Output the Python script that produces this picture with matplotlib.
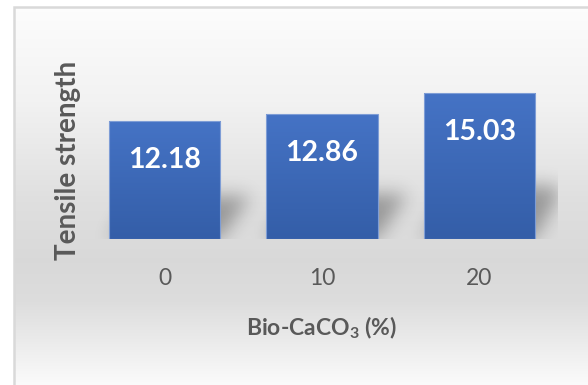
import numpy as np
import matplotlib
matplotlib.use("Agg")
import matplotlib.pyplot as plt

plt.rcParams["font.family"] = ["Lato", "DejaVu Sans"]
plt.rcParams["mathtext.fontset"] = "custom"
plt.rcParams["mathtext.rm"] = "Lato:bold"
plt.rcParams["mathtext.bf"] = "Lato:bold"

# data
categories = ["0", "10", "20"]
strength = [12.18, 12.86, 15.03]
x_title = "Bio-CaCO$_\\mathbf{3}$ (%)"
y_title = "Tensile strength"

W, H = 588, 385
fig = plt.figure(figsize=(W / 100, H / 100), dpi=100)

# chart area background: vertical grey gradient inside a light border
bg = fig.add_axes([0, 0, 1, 1], zorder=-5)
bg.set_xlim(0, W)
bg.set_ylim(H, 0)
bg.axis("off")
stops_y = [7, 100, 200, 260, 300, 340, 385]
stops_v = [0.99, 0.95, 0.875, 0.85, 0.865, 0.92, 0.985]
rows = np.interp(np.arange(H), stops_y, stops_v)
img = np.ones((H, W, 3))
img[7:, 14:, :] = rows[7:, None, None]
bg.imshow(img, extent=(0, W, H, 0), aspect="auto", interpolation="bilinear")
bg.plot([14, 14, W + 5], [H + 5, 7, 7], color="#d9d9d9", lw=1.8,
        solid_joinstyle="miter")

ax = fig.add_axes([86 / W, 146 / H, 472 / W, 155 / H])
ax.patch.set_visible(False)
xpos = np.arange(len(categories))
bar_w = 0.706
ymax = 16

# soft perspective shadow behind each bar
nx, ny = 472, 155
gx = np.linspace(-0.5, 2.5, nx)
gy = np.linspace(0, ymax, ny)
XX, YY = np.meshgrid(gx, gy)
mask = np.zeros_like(XX)
shift = 0.19
for xc, v in zip(xpos, strength):
    hs = 0.36 * v
    t = np.clip(YY / hs, 0, 1)
    left = xc - bar_w / 2 + shift * t
    inside = (YY <= hs) & (XX >= left) & (XX <= left + bar_w)
    mask[inside] = 1.0
sig = 9.0
k = np.arange(-3 * int(sig), 3 * int(sig) + 1)
kern = np.exp(-k ** 2 / (2 * sig ** 2))
kern /= kern.sum()
mask = np.apply_along_axis(lambda r: np.convolve(r, kern, mode="same"), 1, mask)
mask = np.apply_along_axis(lambda c: np.convolve(c, kern, mode="same"), 0, mask)
shadow = np.zeros((ny, nx, 4))
shadow[..., 3] = 0.32 * mask
ax.imshow(shadow, extent=(-0.5, 2.5, 0, ymax), origin="lower", aspect="auto",
          zorder=1)

bars = ax.bar(xpos, strength, width=bar_w, facecolor="none",
              edgecolor="#7e9dd6", linewidth=0.8, zorder=3)

# vertical blue gradient fill for the bars
top_c = np.array([0x45, 0x73, 0xc5]) / 255
bot_c = np.array([0x34, 0x5e, 0xa8]) / 255
grad = np.linspace(0, 1, 100)[:, None, None]
fill = top_c * (1 - grad) + bot_c * grad
for b in bars:
    x0, w, hgt = b.get_x(), b.get_width(), b.get_height()
    ax.imshow(fill, extent=(x0, x0 + w, 0, hgt), origin="upper",
              aspect="auto", zorder=2)

for xc, v in zip(xpos, strength):
    ax.annotate(f"{v:.2f}", (xc, v), xytext=(0, -28),
                textcoords="offset points", ha="center", va="center",
                color="white", fontsize=20.5, fontweight="bold", zorder=4)

ax.set_xlim(-0.5, 2.5)
ax.set_ylim(0, ymax)
ax.set_xticks(xpos, categories)
ax.set_yticks([])
ax.tick_params(axis="x", length=0, pad=21, labelsize=16.5, labelcolor="#595959")
for s in ax.spines.values():
    s.set_visible(False)

fig.text(322 / W, 1 - 328 / H, x_title, ha="center", va="center",
         fontsize=16.5, fontweight="bold", color="#595959")
fig.text(68 / W, 1 - 160 / H, y_title, ha="center", va="center",
         rotation=90, fontsize=20, fontweight="bold", color="#595959")

fig.savefig("out.png", dpi=100)
